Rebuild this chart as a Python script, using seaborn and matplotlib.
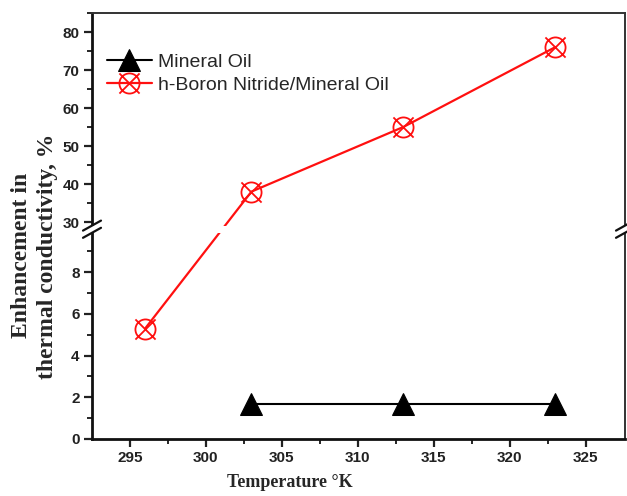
import numpy as np
import matplotlib
matplotlib.use("Agg")
import matplotlib.pyplot as plt
from matplotlib.path import Path
from matplotlib.ticker import FixedLocator
import seaborn as sns

# data
temps_hbn = [296, 303, 313, 323]
enh_hbn = [5.3, 38, 55, 76]
temps_oil = [303, 313, 323]
enh_oil = [1.7, 1.7, 1.7]

y_major = [0, 2, 4, 6, 8, 30, 40, 50, 60, 70, 80]
y_minor = [1, 3, 5, 7, 9, 35, 45, 55, 65, 75, 85]
x_major = [295, 300, 305, 310, 315, 320, 325]
x_minor = [297.5, 302.5, 307.5, 312.5, 317.5, 322.5]

# broken y axis: 0-9.9 below, 29-85 above
LO_TOP, HI_BOT, Y_TOP = 9.9, 29.0, 85.0
P_LO, P_GAP, P_HI = 206.4, 6.8, 212.8


def fwd(y):
    y = np.asarray(y, dtype=float)
    return np.where(y <= LO_TOP, y * P_LO / LO_TOP,
                    np.where(y <= HI_BOT,
                             P_LO + (y - LO_TOP) * P_GAP / (HI_BOT - LO_TOP),
                             P_LO + P_GAP + (y - HI_BOT) * P_HI / (Y_TOP - HI_BOT)))


def inv(p):
    p = np.asarray(p, dtype=float)
    return np.where(p <= P_LO, p * LO_TOP / P_LO,
                    np.where(p <= P_LO + P_GAP,
                             LO_TOP + (p - P_LO) * (HI_BOT - LO_TOP) / P_GAP,
                             HI_BOT + (p - P_LO - P_GAP) * (Y_TOP - HI_BOT) / P_HI))


sns.set_style("ticks")

# crossed circle marker
circ = Path.unit_circle()
cross = Path([(-1, -1), (1, 1), (-1, 1), (1, -1)],
             [Path.MOVETO, Path.LINETO, Path.MOVETO, Path.LINETO])
crossed_circle = Path.make_compound_path(circ, cross)

fig = plt.figure(figsize=(6.27, 4.96), dpi=100)
ax = fig.add_axes([92 / 627, 1 - 439 / 496, 533 / 627, 426 / 496])

sns.lineplot(x=temps_oil, y=enh_oil, ax=ax, color="black", lw=1.5,
             marker="^", markersize=16, markerfacecolor="black",
             markeredgecolor="black", label="Mineral Oil", zorder=3)
sns.lineplot(x=temps_hbn, y=enh_hbn, ax=ax, color="#ff1010", lw=1.6,
             marker=crossed_circle, markersize=14.5, markerfacecolor="none",
             markeredgecolor="#ff1010", markeredgewidth=1.3,
             label="h-Boron Nitride/Mineral Oil", zorder=3)

ax.set_yscale("function", functions=(fwd, inv))
ax.set_ylim(0, Y_TOP)
ax.set_xlim(292.5, 327.6)
ax.yaxis.set_major_locator(FixedLocator(y_major))
ax.yaxis.set_minor_locator(FixedLocator(y_minor))
ax.xaxis.set_major_locator(FixedLocator(x_major))
ax.xaxis.set_minor_locator(FixedLocator(x_minor))
ax.set_yticklabels([str(v) for v in y_major])

ax.tick_params(which="major", direction="out", length=6, width=1.6,
               labelsize=11, colors="#222222", pad=3)
ax.tick_params(which="minor", direction="out", length=3.5, width=1.4)
ax.tick_params(top=False, right=False, which="both")
for lab in ax.get_xticklabels() + ax.get_yticklabels():
    lab.set_fontfamily("Liberation Sans")
    lab.set_fontweight("bold")

for side in ["left", "bottom"]:
    ax.spines[side].set_linewidth(2.0)
    ax.spines[side].set_color("#111111")
for side in ["top", "right"]:
    ax.spines[side].set_linewidth(1.4)
    ax.spines[side].set_color("#333333")

# white gap across the axis break
ax.axhspan(LO_TOP, HI_BOT, xmin=-0.02, xmax=1.02, color="white",
           zorder=5, clip_on=False, lw=0)
yc = (float(fwd(LO_TOP)) + float(fwd(HI_BOT))) / 2 / float(fwd(Y_TOP))
dx, dy, off = 9 / 533, 5 / 426, 3.6 / 426
for xs in [0.0, 1.0]:
    for o in [-off, off]:
        ax.plot([xs - dx, xs + dx], [yc + o - dy, yc + o + dy],
                transform=ax.transAxes, color="#111111", lw=1.6,
                clip_on=False, zorder=6)

ax.set_xlabel("Temperature \u00b0K", fontsize=13,
              fontfamily="Liberation Serif", fontweight="bold")
ax.xaxis.set_label_coords(0.372, -0.082)
ax.set_ylabel("Enhancement in\nthermal conductivity, %", fontsize=17,
              fontfamily="Liberation Serif", fontweight="bold",
              linespacing=1.3)
ax.yaxis.set_label_coords(-0.064, 0.43)

leg = ax.legend(loc="upper left", bbox_to_anchor=(0.028, 0.905),
                frameon=False, borderpad=0, borderaxespad=0,
                handlelength=2.3, handletextpad=0.35, labelspacing=0.25,
                prop={"family": "Liberation Sans", "size": 14})

fig.savefig("out.png", dpi=100)
